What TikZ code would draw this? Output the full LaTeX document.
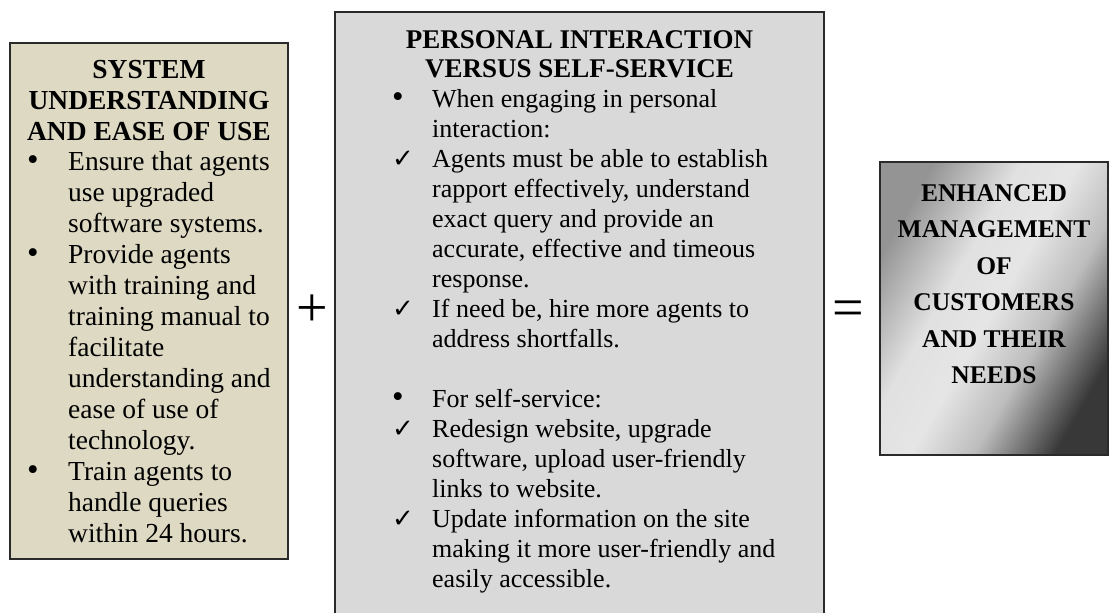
\documentclass[tikz,border=0pt]{standalone}
\usepackage{fontspec}
\setmainfont{Liberation Serif}
\newfontfamily\symfont{DejaVu Sans}
\definecolor{lbeige}{HTML}{DDD9C3}
\definecolor{mgray}{HTML}{D9D9D9}
\definecolor{edge}{HTML}{2A2A2A}
\pgfdeclarehorizontalshading{metal}{100bp}{color(0bp)=(black!42); color(25bp)=(black!42); color(40bp)=(black!12); color(50bp)=(black!10); color(61bp)=(black!26); color(75bp)=(black!78); color(100bp)=(black!78)}
\begin{document}
\begin{tikzpicture}[x=1pt,y=-1pt,
  box/.style={draw=edge, line width=1.3pt, inner sep=0pt, outer sep=0pt, anchor=north west},
  ltitle/.style={font=\fontsize{27.5}{31}\selectfont\bfseries, anchor=base, inner sep=0pt},
  ltext/.style={font=\fontsize{27.5}{31}\selectfont, anchor=base west, inner sep=0pt},
  mtitle/.style={font=\fontsize{27}{30}\selectfont\bfseries, anchor=base, inner sep=0pt},
  mtext/.style={font=\fontsize{26}{30}\selectfont, anchor=base west, inner sep=0pt},
  rtitle/.style={font=\fontsize{25.5}{36}\selectfont\bfseries, anchor=base, inner sep=0pt},
  bul/.style={font=\fontsize{33}{33}\selectfont, anchor=center, inner sep=0pt},
  chk/.style={font=\symfont\fontsize{26}{30}\selectfont, anchor=center, inner sep=0pt},
  op/.style={font=\fontsize{56}{60}\selectfont, anchor=base, inner sep=0pt}]
\useasboundingbox (0,0) rectangle (1109,613);
\clip (0,0) rectangle (1109,613);
% boxes
\node[box, fill=lbeige, minimum width=278pt, minimum height=516pt] (lbox) at (10,43) {};
\node[box, fill=mgray, minimum width=489pt, minimum height=625pt] (mbox) at (335,12) {};
\node[box, shading=metal, shading angle=-30, minimum width=228pt, minimum height=293pt] (rbox) at (880,162) {};
% left box
\foreach \t [count=\i from 0] in {SYSTEM, UNDERSTANDING, AND EASE OF USE}
  \node[ltitle] (lt\i) at (149,{78+31*\i}) {\t};
\foreach \t [count=\i from 0] in {Ensure that agents, use upgraded, software systems., Provide agents, with training and, training manual to, facilitate, understanding and, ease of use of, technology., Train agents to, handle queries, within 24 hours.}
  \node[ltext] (lb\i) at (68,{170+31*\i}) {\t};
\foreach \i in {0,3,10}
  \node[bul] (lbu\i) at (33,{170+31*\i-7}) {•};
% middle box
\node[mtitle] (mt1) at (579.5,48) {PERSONAL INTERACTION};
\node[mtitle] (mt2) at (579.5,77) {VERSUS SELF-SERVICE};
\foreach \y/\t [count=\i] in {107/When engaging in personal, 137/interaction:, 167/Agents must be able to establish, 197/{rapport effectively, understand}, 227/exact query and provide an, 257/{accurate, effective and timeous}, 287/response., 317/{If need be, hire more agents to}, 347/address shortfalls., 407/For self-service:, 437/{Redesign website, upgrade}, 467/{software, upload user-friendly}, 497/links to website., 527/Update information on the site, 557/making it more user-friendly and, 587/easily accessible.}
  \node[mtext] (mb\i) at (432,\y) {\t};
\foreach \y in {107,407}
  \node[bul] (mbu\y) at (398,{\y-7}) {•};
\foreach \y in {167,317,437,527}
  \node[chk] (mck\y) at (403,{\y-8}) {✓};
% right box
\foreach \t [count=\i from 0] in {ENHANCED, MANAGEMENT, OF, CUSTOMERS, AND THEIR, NEEDS}
  \node[rtitle] (rt\i) at (994,{201+36.5*\i}) {\t};
% operators
\node[op] (plus) at (312,326) {+};
\node[op] (equals) at (848.5,326) {=};
\end{tikzpicture}
\end{document}
